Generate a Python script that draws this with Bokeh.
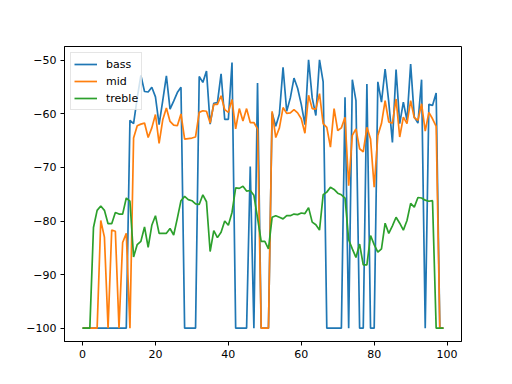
from bokeh.plotting import figure
from bokeh.models import Range1d, FixedTicker, Legend, LegendItem, ColumnDataSource
from bokeh.embed import file_html
from bokeh.resources import INLINE

x = list(range(100))

bass = [-100]*13 + [
    -61.2, -61.8, -57.0, -52.8, -55.8, -55.9, -55.0, -56.8, -62.0, -57.5,
    -52.9, -59.1, -57.6, -56.0, -55.0] + [-100]*4 + [
    -53.0, -54.1, -52.0, -61.9, -58.0, -57.9, -52.5, -61.0, -61.0, -50.4] + [-100]*4 + [
    -69.8, -100, -54.2] + [-100]*3 + [
    -59.8, -62.3, -60.0, -51.3, -59.5, -57.0, -53.3, -55.2, -58.2, -62.0,
    -49.9, -57.0, -60.3, -49.9, -54.0] + [-100]*5 + [
    -56.9, -100, -53.6, -57.5, -100, -100, -54.4, -100, -100,
    -54.0, -57.8, -51.6, -57.8, -65.3, -51.7, -61.8, -57.8, -61.2, -50.7,
    -60.6, -61.7, -53.6, -100, -58.2, -58.4, -56.1, -100, -100]

mid = [-100]*5 + [
    -79.9, -83.0, -100, -81.7, -81.9, -100, -84.0, -82.3, -100,
    -64.5, -62.2, -61.9, -61.7, -64.4, -62.6, -60.1, -65.5, -61.1, -58.9,
    -61.4, -62.1, -62.2, -60.0, -64.7, -64.6, -64.5, -64.3, -59.7, -59.4,
    -59.5, -61.7, -58.2, -58.2, -56.6, -59.2, -59.7, -57.3, -62.8, -59.0,
    -61.3, -59.0, -61.6, -61.6, -62.8] + [-100]*3 + [
    -59.5, -64.4, -62.6, -58.8, -59.9, -59.8, -59.2, -59.8, -60.9, -63.6,
    -56.5, -59.0, -59.1, -56.2, -61.8, -62.5, -66.2, -59.0, -63.1, -62.6,
    -60.6, -73.4, -64.0, -62.8, -66.5, -67.1, -62.5, -64.7, -73.7, -64.0,
    -61.8, -57.5, -61.5, -61.7, -57.2, -64.3, -60.6, -61.8, -57.5, -60.7,
    -61.2, -58.1, -63.2, -59.7, -60.9, -62.3, -100, -100]

treble = [-100]*3 + [
    -81.2, -78.0, -77.2, -78.0, -80.5, -80.5, -78.4, -78.7, -78.7, -75.7,
    -76.3, -86.7, -84.4, -83.8, -81.1, -84.9, -80.8, -79.0, -82.3, -82.3,
    -82.3, -81.4, -82.6, -79.5, -76.2, -75.4, -76.0, -76.2, -76.8, -76.9,
    -75.1, -76.4, -85.7, -81.8, -83.1, -82.1, -80.0, -80.8, -78.4, -73.8,
    -73.9, -73.5, -74.4, -74.3, -75.2, -79.4, -83.8, -83.8, -85.2, -79.3,
    -79.0, -79.3, -79.6, -79.0, -79.0, -78.7, -78.8, -78.5, -78.6, -77.5,
    -80.2, -80.7, -81.7, -75.1, -74.6, -73.7, -74.1, -74.8, -75.1, -75.7,
    -83.5, -85.2, -86.8, -84.3, -88.2, -88.2, -82.7, -84.4, -85.8, -85.2,
    -80.4, -82.3, -80.9, -79.3, -80.4, -81.7, -79.9, -76.7, -77.4, -75.6,
    -75.7, -76.1, -76.3, -76.2, -100, -100, -100]

series_names = ["bass", "mid", "treble"]
colors = ["#1f77b4", "#ff7f0e", "#2ca02c"]
x_ticks = [0, 20, 40, 60, 80, 100]
y_ticks = [-100, -90, -80, -70, -60, -50]
y_tick_labels = ["\u2212100", "\u221290", "\u221280", "\u221270", "\u221260", "\u221250"]

p = figure(frame_width=397, frame_height=295, output_backend="svg",
           toolbar_location=None,
           x_range=Range1d(-4.95, 103.95), y_range=Range1d(-102.5, -47.4),
           min_border_left=64, min_border_right=43, min_border_top=46,
           min_border_bottom=35)
p.background_fill_color = "white"
p.border_fill_color = "white"
p.outline_line_color = "black"
p.outline_line_width = 1
p.xgrid.visible = False
p.ygrid.visible = False

for ax, ticks in ((p.xaxis, x_ticks), (p.yaxis, y_ticks)):
    ax.ticker = FixedTicker(ticks=ticks)
    ax.major_tick_in = 0
    ax.major_tick_out = 4
    ax.minor_tick_line_color = None
    ax.major_label_text_font = "DejaVu Sans"
    ax.major_label_text_font_size = "11px"
    ax.major_label_text_color = "black"
    ax.axis_line_color = "black"
    ax.major_tick_line_color = "black"
    ax.major_label_standoff = 4

p.yaxis.major_label_overrides = {t: s for t, s in zip(y_ticks, y_tick_labels)}

items = []
for name, ys, c in zip(series_names, [bass, mid, treble], colors):
    src = ColumnDataSource(dict(x=x, y=ys))
    r = p.line("x", "y", source=src, line_color=c, line_width=1.7)
    items.append(LegendItem(label=name, renderers=[r]))

legend = Legend(items=items, location="top_left", margin=6, padding=3,
                spacing=1, label_height=16, glyph_height=16, glyph_width=23,
                label_standoff=9, label_text_font="DejaVu Sans",
                label_text_font_size="11px", label_text_color="black",
                border_line_color="#cccccc", border_line_width=1,
                background_fill_color="white", background_fill_alpha=0.8)
p.add_layout(legend)

open("out.html", "w").write(file_html(p, INLINE))
